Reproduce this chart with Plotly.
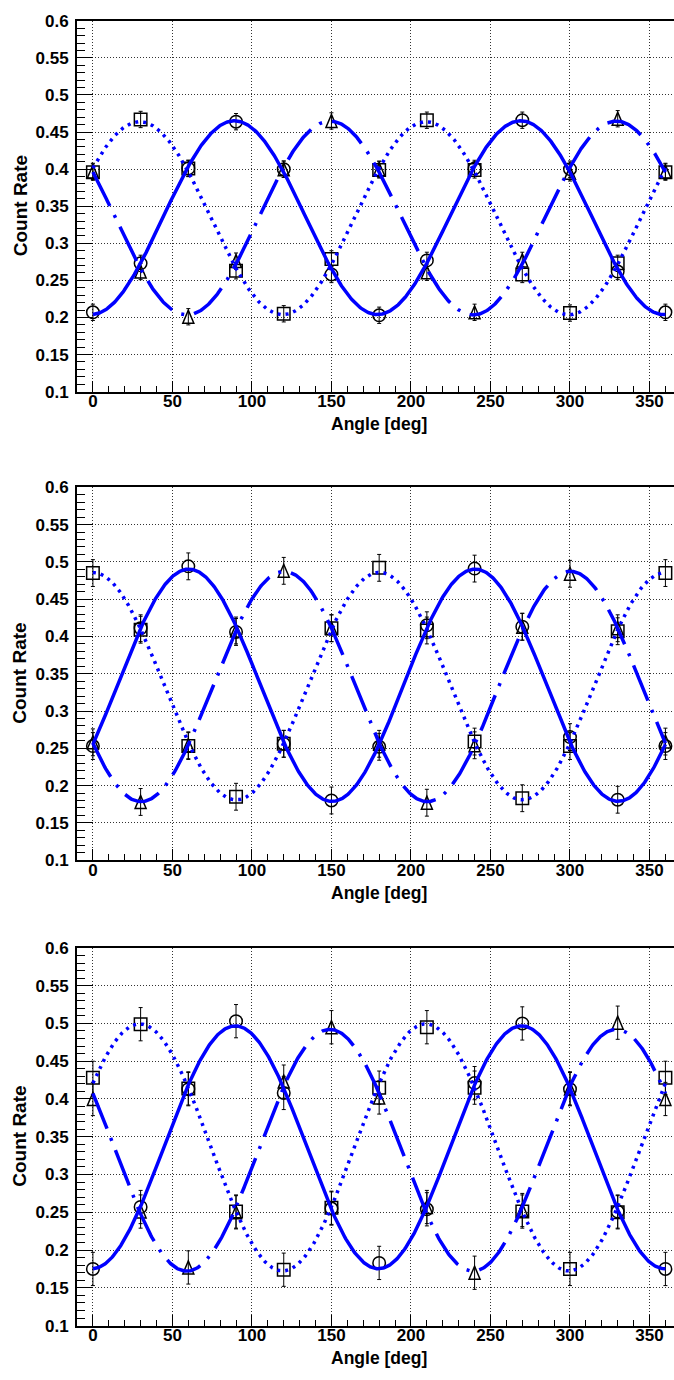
import numpy as np
import plotly.graph_objects as go

# Polarizer angle settings (deg)
angles = [0, 30, 60, 90, 120, 150, 180, 210, 240, 270, 300, 330, 360]

# Top panel
p1_circle = [0.207, 0.273, 0.401, 0.464, 0.400, 0.258, 0.203, 0.277, 0.401, 0.466, 0.400, 0.262, 0.207]
p1_square = [0.396, 0.467, 0.401, 0.263, 0.205, 0.279, 0.399, 0.466, 0.399, 0.258, 0.206, 0.273, 0.396]
p1_triangle = [0.397, 0.262, 0.201, 0.276, 0.400, 0.465, 0.400, 0.261, 0.207, 0.277, 0.395, 0.468, 0.397]
p1_err = 0.011

# Middle panel
p2_circle = [0.253, 0.411, 0.494, 0.406, 0.256, 0.180, 0.252, 0.415, 0.491, 0.413, 0.265, 0.181, 0.253]
p2_square = [0.485, 0.409, 0.253, 0.185, 0.256, 0.411, 0.492, 0.408, 0.259, 0.183, 0.253, 0.407, 0.485]
p2_triangle = [0.258, 0.178, 0.254, 0.408, 0.488, 0.411, 0.256, 0.177, 0.254, 0.413, 0.484, 0.411, 0.259]
p2_err = 0.018

# Bottom panel
p3_circle = [0.175, 0.257, 0.413, 0.503, 0.408, 0.255, 0.183, 0.254, 0.421, 0.500, 0.413, 0.251, 0.175]
p3_square = [0.428, 0.499, 0.414, 0.251, 0.174, 0.256, 0.415, 0.495, 0.415, 0.251, 0.175, 0.250, 0.428]
p3_triangle = [0.400, 0.251, 0.177, 0.250, 0.423, 0.495, 0.402, 0.257, 0.170, 0.253, 0.414, 0.501, 0.400]
p3_err = 0.022

x_tick_vals = [0, 50, 100, 150, 200, 250, 300, 350]
x_tick_text = ["0", "50", "100", "150", "200", "250", "300", "350"]
y_tick_vals = [0.1, 0.15, 0.2, 0.25, 0.3, 0.35, 0.4, 0.45, 0.5, 0.55, 0.6]
y_tick_text = ["0.1", "0.15", "0.2", "0.25", "0.3", "0.35", "0.4", "0.45", "0.5", "0.55", "0.6"]

panels = [
    (p1_circle, p1_square, p1_triangle, p1_err),
    (p2_circle, p2_square, p2_triangle, p2_err),
    (p3_circle, p3_square, p3_triangle, p3_err),
]

W, H = 674, 1380
LEFT = 77
# vertical pixel extent (top, bottom) of each frame
frames_px = [(12, 388), (485, 863), (952, 1335)]

BLUE = "#0000ff"
FONT = "Liberation Sans, Arial, Helvetica, sans-serif"
LINE_STYLES = {"circle": "solid", "square": "3px,5px", "triangle": "38px,10px,3px,10px"}

ang = np.radians(np.array(angles, dtype=float))
x_fit = np.linspace(0, 360, 721)
t_fit = np.radians(x_fit)


def cos2_fit(values):
    """Least-squares fit of a + b*cos(2t) + c*sin(2t), evaluated on x_fit."""
    A = np.column_stack([np.ones_like(ang), np.cos(2 * ang), np.sin(2 * ang)])
    coef, *_ = np.linalg.lstsq(A, np.array(values), rcond=None)
    B = np.column_stack([np.ones_like(t_fit), np.cos(2 * t_fit), np.sin(2 * t_fit)])
    return B @ coef


def bold(labels):
    return ["<b>%s</b>" % s for s in labels]


fig = go.Figure()
shapes = []
annotations = []

minor_x = [v for v in range(-10, 370, 10) if v % 50 != 0]
minor_y = [round(v, 2) for v in np.arange(0.1, 0.6001, 0.01) if round(v * 100) % 5 != 0]

for i, (circ, sq, tri, err) in enumerate(panels):
    n = "" if i == 0 else str(i + 1)
    xa, ya = "x" + n, "y" + n
    errs = dict(type="constant", value=err, color="black", thickness=1, width=2)

    fig.add_trace(go.Scatter(
        x=angles, y=circ, xaxis=xa, yaxis=ya, mode="markers",
        marker=dict(symbol="circle-open", size=12.5, color="black", line=dict(width=1.5, color="black")),
        error_y=errs, showlegend=False, hoverinfo="x+y"))
    fig.add_trace(go.Scatter(
        x=angles, y=sq, xaxis=xa, yaxis=ya, mode="markers",
        marker=dict(symbol="square-open", size=12.5, color="black", line=dict(width=1.5, color="black")),
        error_y=errs, showlegend=False, hoverinfo="x+y"))
    # error bars for the triangle series; the triangles themselves are drawn as pixel-sized shapes
    fig.add_trace(go.Scatter(
        x=angles, y=tri, xaxis=xa, yaxis=ya, mode="markers",
        marker=dict(size=12, color="rgba(0,0,0,0)"),
        error_y=errs, showlegend=False, hoverinfo="x+y"))
    for a, v in zip(angles, tri):
        shapes.append(dict(
            type="path", xref=xa, yref=ya, xsizemode="pixel", ysizemode="pixel",
            xanchor=a, yanchor=v, path="M-5.5,-6.5L5.5,-6.5L0,6.5Z",
            line=dict(color="black", width=1.5), fillcolor="rgba(0,0,0,0)", layer="between"))

    for key, vals in (("circle", circ), ("square", sq), ("triangle", tri)):
        fig.add_trace(go.Scatter(
            x=x_fit, y=cos2_fit(vals), xaxis=xa, yaxis=ya, mode="lines",
            line=dict(color=BLUE, width=3.5, dash=LINE_STYLES[key]),
            showlegend=False, hoverinfo="skip"))

    top, bot = frames_px[i]
    axis_common = dict(
        showline=True, linecolor="black", linewidth=2, zeroline=False,
        ticks="inside", tickcolor="black", tickwidth=1,
        tickfont=dict(family=FONT, size=17, color="black"),
        showgrid=True, gridcolor="#333333", gridwidth=1, griddash="1px,2px",
        tickmode="array", fixedrange=True,
    )
    fig.update_layout(**{
        "xaxis" + n: dict(
            axis_common, domain=[LEFT / W, 1], range=[-10, 365.4], anchor=ya,
            mirror=True, tickvals=x_tick_vals, ticktext=bold(x_tick_text), ticklen=11,
            ticklabelstandoff=-7,
            minor=dict(tickmode="array", tickvals=minor_x, ticks="inside", ticklen=6,
                       tickcolor="black", tickwidth=1, showgrid=False)),
        "yaxis" + n: dict(
            axis_common, domain=[1 - bot / H, 1 - top / H], range=[0.1, 0.6], anchor=xa,
            tickvals=y_tick_vals, ticktext=bold(y_tick_text), ticklen=16,
            ticklabelstandoff=3,
            minor=dict(tickmode="array", tickvals=minor_y, ticks="inside", ticklen=8,
                       tickcolor="black", tickwidth=1, showgrid=False)),
    })

    annotations.append(dict(
        text="<b>Count Rate</b>", textangle=-90, xref="paper", yref="paper",
        x=20 / W, y=1 - (top + bot) / 2 / H, xanchor="center", yanchor="middle",
        showarrow=False, font=dict(family=FONT, size=19, color="black")))
    annotations.append(dict(
        text="<b>Angle [deg]</b>", xref="paper", yref="paper",
        x=379 / W, y=1 - (bot + 33) / H, xanchor="center", yanchor="middle",
        showarrow=False, font=dict(family=FONT, size=17.5, color="black")))

fig.update_layout(
    width=W, height=H, margin=dict(l=0, r=0, t=0, b=0),
    paper_bgcolor="white", plot_bgcolor="white",
    shapes=shapes, annotations=annotations, showlegend=False,
)

fig.write_html("out.html", config={"displayModeBar": False})
